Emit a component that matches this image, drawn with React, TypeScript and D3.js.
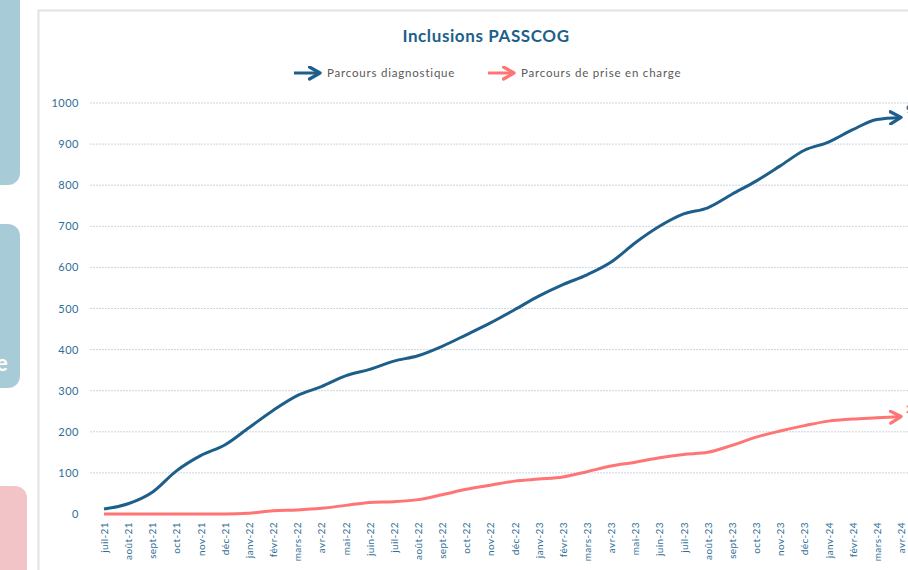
import React from 'react';
import * as d3 from 'd3';

const months = ["juil-21","août-21","sept-21","oct-21","nov-21","déc-21","janv-22","févr-22","mars-22","avr-22","mai-22","juin-22","juil-22","août-22","sept-22","oct-22","nov-22","déc-22","janv-23","févr-23","mars-23","avr-23","mai-23","juin-23","juil-23","août-23","sept-23","oct-23","nov-23","déc-23","janv-24","févr-24","mars-24","avr-24"];
const diagnostique = [12,25,53,105,142,168,210,252,288,310,336,352,372,385,408,436,465,497,530,558,582,613,660,700,730,745,778,810,847,885,905,935,960,965];
const priseEnCharge = [0,0,0,0,0,0,2,8,10,14,21,28,30,35,47,60,70,80,85,90,103,117,126,137,145,150,167,187,202,215,226,231,234,237];
const yTicks = [0,100,200,300,400,500,600,700,800,900,1000];
const seriesNames = ["Parcours diagnostique", "Parcours de prise en charge"];

const BLUE = "#1d5f8a";
const PINK = "#ff7575";
const TICK = "#2f6e94";
const FONT = "Lato, 'Open Sans', sans-serif";

const App = () => {
    const width = 908, height = 570;
    const x = d3.scalePoint<string>().domain(months).range([104, 901]);
    const y = d3.scaleLinear().domain([0, 1000]).range([514, 103]);
    const line = d3.line<number>()
        .x((d, i) => x(months[i]) as number)
        .y(d => y(d))
        .curve(d3.curveMonotoneX);

    const series = [
        { name: seriesNames[0], values: diagnostique, color: BLUE, id: "arrBlue" },
        { name: seriesNames[1], values: priseEnCharge, color: PINK, id: "arrPink" },
    ];

    return (
        <svg width={width} height={height} style={{ position: "absolute", left: 0, top: 0, fontFamily: FONT }}>
            <defs>
                {series.map(s => (
                    <marker key={s.id} id={s.id} viewBox="0 0 10 10" refX="8" refY="5"
                        markerWidth="5" markerHeight="5" orient="auto" markerUnits="strokeWidth">
                        <path d="M1,1 L8,5 L1,9" fill="none" stroke={s.color} strokeWidth="2.2"
                            strokeLinecap="round" strokeLinejoin="round" />
                    </marker>
                ))}
            </defs>
            <rect width={width} height={height} fill="#ffffff" />
            {/* side panels of the slide */}
            <rect x={-20} y={-10} width={40} height={195} rx={12} fill="#a8cbd8" />
            <rect x={-20} y={224} width={40} height={164} rx={12} fill="#a8cbd8" />
            <text x={-4} y={371} fill="#ffffff" fontSize={22} fontWeight="bold">e</text>
            <rect x={-20} y={486} width={47} height={100} rx={12} fill="#f2c3c7" />

            {/* chart frame */}
            <rect x={38.5} y={10.5} width={900} height={600} fill="none" stroke="#e2e2e2" strokeWidth={2} />

            <text x={486} y={42} textAnchor="middle" fill={BLUE} fontSize={17} fontWeight="bold" letterSpacing={0.6}>Inclusions PASSCOG</text>

            {/* legend */}
            {series.map((s, i) => {
                const lx = i === 0 ? 294 : 488;
                return (
                    <g key={s.name}>
                        <line x1={lx} x2={lx + 26} y1={73} y2={73} stroke={s.color} strokeWidth={3} markerEnd={`url(#${s.id})`} />
                        <text x={lx + 33} y={77} fontSize={11.5} letterSpacing={0.8} fill="#595959">{s.name}</text>
                    </g>
                );
            })}

            {/* grid + y axis */}
            {yTicks.map(t => (
                <g key={t}>
                    {t > 0 && <line x1={90} x2={width} y1={y(t)} y2={y(t)} stroke="#cbd6de" strokeWidth={1} strokeDasharray="2,1" />}
                    <text x={79} y={y(t) + 4} textAnchor="end" fontSize={11} letterSpacing={0.5} fill={TICK}>{t}</text>
                </g>
            ))}

            {/* x axis labels */}
            {months.map(m => (
                <text key={m} transform={`translate(${(x(m) as number) + 4},${522}) rotate(-90)`}
                    textAnchor="end" fontSize={10} letterSpacing={0.4} fill={TICK}>{m}</text>
            ))}

            {/* lines */}
            {series.map(s => (
                <path key={s.name} d={line(s.values) || ""} fill="none" stroke={s.color}
                    strokeWidth={3} strokeLinejoin="round" markerEnd={`url(#${s.id})`} />
            ))}

            {/* data labels at end (cut off by the slide) */}
            {series.map(s => {
                const last = s.values[s.values.length - 1];
                return (
                    <text key={s.name + "lbl"} x={(x(months[months.length - 1]) as number) + 5} y={y(last) - 4}
                        fontSize={11} fontWeight="bold" fill={s.color}>{last}</text>
                );
            })}
        </svg>
    );
};

export default App;
